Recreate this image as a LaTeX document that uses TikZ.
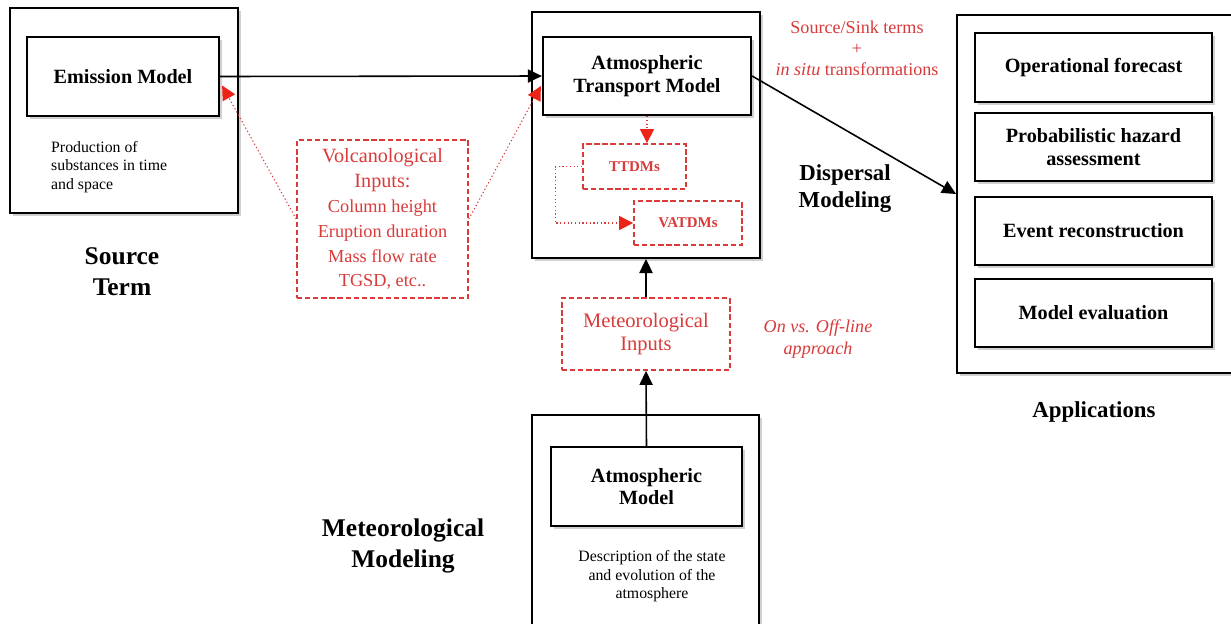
\documentclass[tikz,border=0pt]{standalone}
\usepackage{fontspec}
\setmainfont{Liberation Serif}
\usetikzlibrary{arrows.meta,positioning,calc,shadows}
\definecolor{volcred}{HTML}{D93A3A}
\definecolor{tipred}{HTML}{EC2418}
\newcommand{\smallred}{\fontsize{10.4}{12.3}\selectfont}
\tikzset{
  softshadow/.style={drop shadow={shadow xshift=1.8pt,shadow yshift=-1.8pt,opacity=0.3,fill=black!60}},
  outerbox/.style={draw,line width=1.1pt,fill=white,inner sep=0pt,softshadow},
  modelbox/.style={draw,line width=1.3pt,fill=white,inner sep=0pt,align=center,
    font=\fontsize{11.5}{13}\selectfont\bfseries,softshadow},
  inputbox/.style={draw=volcred,dash pattern=on 3pt off 1.6pt,line width=1pt,
    inner sep=0pt,text=volcred,align=center},
  heading/.style={align=center,font=\fontsize{14.5}{17.8}\selectfont\bfseries},
  subheading/.style={align=center,font=\fontsize{13}{15.3}\selectfont\bfseries},
  note/.style={align=center,font=\fontsize{9}{10.5}\selectfont},
  rednote/.style={align=center,text=volcred,font=\fontsize{10.3}{12}\selectfont},
  flow/.style={line width=0.9pt,-{Triangle[length=8pt,width=7.5pt]}},
  hint/.style={volcred,line width=0.6pt,dash pattern=on 0.7pt off 1.4pt,
    -{Triangle[length=8pt,width=8pt,color=tipred]}}
}
\begin{document}
\begin{tikzpicture}[x=0.02cm,y=-0.02cm]
  \useasboundingbox[fill=white] (0,0) rectangle (1231,623);

  % Source term
  \node[outerbox,minimum width=4.56cm,minimum height=4.10cm] (src) at (124,110.5) {};
  \node[modelbox,minimum width=3.84cm,minimum height=1.58cm] (emis) at (123,76.5) {Emission Model};
  \node[note,align=left,anchor=west] (prod) at (45,167) {Production of\\substances in time\\and space};
  \node[heading] (srclabel) at (122,271.5) {Source\\Term};

  % Volcanological inputs
  \node[inputbox,minimum width=3.42cm,minimum height=3.16cm,
    font=\fontsize{11.5}{14.2}\selectfont] (volc) at (382.5,219)
    {Volcanological\\Inputs:\\\smallred Column height\\\smallred Eruption duration\\
     \smallred Mass flow rate\\\smallred TGSD, etc..};

  % Dispersal modeling
  \node[outerbox,minimum width=4.56cm,minimum height=4.92cm] (disp) at (646,135) {};
  \node[modelbox,minimum width=4.16cm,minimum height=1.56cm] (atm) at (647,76) {Atmospheric\\Transport Model};
  \node[inputbox,minimum width=2.06cm,minimum height=0.90cm,
    font=\fontsize{8.5}{10}\selectfont\bfseries] (ttdm) at (634.5,166.5) {TTDMs};
  \node[inputbox,minimum width=2.16cm,minimum height=0.88cm,
    font=\fontsize{8.5}{10}\selectfont\bfseries] (vatdm) at (688,223) {VATDMs};
  \node[rednote] (sink) at (857,48) {Source/Sink terms\\+\\\textit{in situ} transformations};
  \node[subheading] (displabel) at (845,188.5) {Dispersal\\Modeling};

  % Applications
  \node[outerbox,minimum width=5.66cm,minimum height=7.16cm] (apps) at (1098.5,194) {};
  \node[modelbox,minimum width=4.74cm,minimum height=1.38cm] (oper) at (1093.5,67.5) {Operational forecast};
  \node[modelbox,minimum width=4.74cm,minimum height=1.36cm] (prob) at (1093.5,147) {Probabilistic hazard\\assessment};
  \node[modelbox,minimum width=4.74cm,minimum height=1.36cm] (event) at (1093.5,231) {Event reconstruction};
  \node[modelbox,minimum width=4.74cm,minimum height=1.36cm] (evalu) at (1093.5,313) {Model evaluation};
  \node[subheading] (appslabel) at (1094,412) {Applications};

  % Meteorological modeling
  \node[inputbox,minimum width=3.36cm,minimum height=1.44cm,
    font=\fontsize{11.7}{13.6}\selectfont] (metin) at (646,334) {Meteorological\\Inputs};
  \node[rednote,font=\fontsize{10.3}{12.5}\selectfont\itshape] (offline) at (818,339) {On vs. Off-line\\approach};
  \node[outerbox,minimum width=4.54cm,minimum height=4.30cm] (met) at (645.5,522.5) {};
  \node[modelbox,minimum width=3.82cm,minimum height=1.58cm] (atmod) at (646.5,486.5) {Atmospheric\\Model};
  \node[note] (descr) at (652,576.5) {Description of the state\\and evolution of the\\atmosphere};
  \node[heading] (metlabel) at (403,546) {Meteorological\\Modeling};

  % connectors
  \draw[flow] (emis.east) -- (atm.west);
  \draw[flow] (atm.east) -- (apps.west);
  \draw[flow] (metin.north) -- (disp.south);
  \draw[flow] (atmod.north) -- (metin.south);
  \draw[hint] (volc.west) -- ($(emis.east)+(2,9)$);
  \draw[hint] (volc.east) -- ($(atm.west)+(-1,10)$);
  \draw[hint] (atm.south) -- (atm.south |- ttdm.north);
  \draw[hint] (ttdm.west) -- ++(-27,0) |- (vatdm.west);
\end{tikzpicture}
\end{document}
